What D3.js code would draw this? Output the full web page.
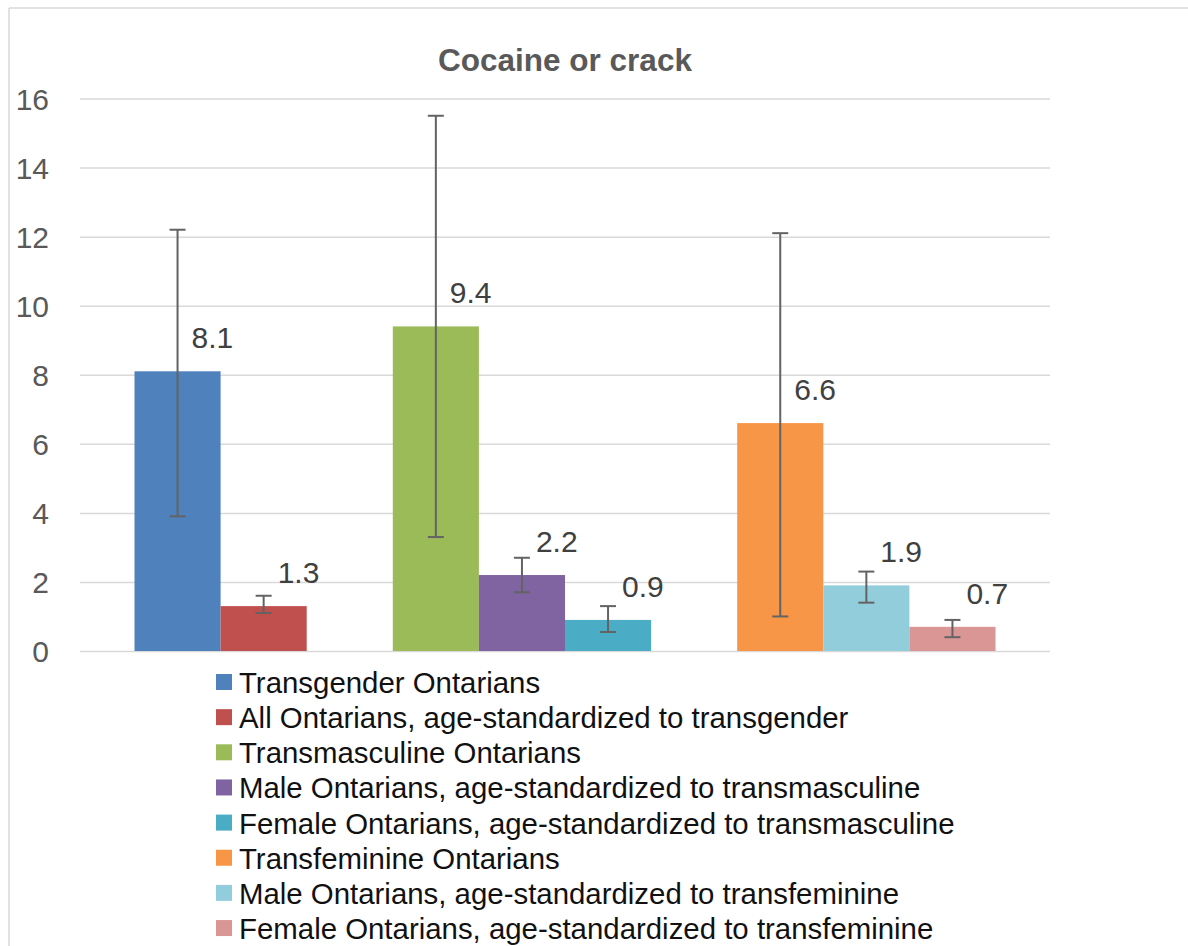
<!DOCTYPE html>
<html>
<head>
<meta charset="utf-8">
<script src="https://cdn.jsdelivr.net/npm/d3@7/dist/d3.min.js"></script>
<style>
  html, body { margin: 0; padding: 0; background: #fff; }
  svg { display: block; font-family: "Liberation Sans", Arial, Helvetica, sans-serif; }
</style>
</head>
<body>
<svg id="chart" width="1188" height="946"></svg>
<script>
// ---- data ----
const title = "Cocaine or crack";
const seriesNames = [
  "Transgender Ontarians",
  "All Ontarians, age-standardized to transgender",
  "Transmasculine Ontarians",
  "Male Ontarians, age-standardized to transmasculine",
  "Female Ontarians, age-standardized to transmasculine",
  "Transfeminine Ontarians",
  "Male Ontarians, age-standardized to transfeminine",
  "Female Ontarians, age-standardized to transfeminine"
];
const groupOf = ["Transgender", "Transgender", "Transmasculine", "Transmasculine", "Transmasculine", "Transfeminine", "Transfeminine", "Transfeminine"];
const values = [8.1, 1.3, 9.4, 2.2, 0.9, 6.6, 1.9, 0.7];
const ciLow  = [3.9, 1.1, 3.3, 1.7, 0.55, 1.0, 1.4, 0.4];
const ciHigh = [12.2, 1.6, 15.5, 2.7, 1.3, 12.1, 2.3, 0.9];
const colors = ["#4F81BD", "#C0504D", "#9BBB59", "#8064A2", "#4BACC6", "#F79646", "#92CDDC", "#D99694"];
const yTicks = [0, 2, 4, 6, 8, 10, 12, 14, 16];

// ---- layout ----
const svg = d3.select("#chart");
const plot = { left: 80, right: 1050, top: 98.5, bottom: 651 };

// slot domain: series in order, with one empty slot between groups
const slots = [];
seriesNames.forEach((s, i) => {
  if (i > 0 && groupOf[i] !== groupOf[i - 1]) slots.push("gap-" + i);
  slots.push(s);
});

const x = d3.scaleBand()
  .domain(slots)
  .range([plot.left, plot.right])
  .paddingInner(0)
  .paddingOuter(0.633);

const y = d3.scaleLinear().domain([0, 16]).range([plot.bottom, plot.top]);

// frame (top and left lines)
svg.append("line").attr("x1", 9).attr("x2", 1188).attr("y1", 8).attr("y2", 8)
  .attr("stroke", "#d9d9d9").attr("stroke-width", 1.5);
svg.append("line").attr("x1", 9).attr("x2", 9).attr("y1", 8).attr("y2", 946)
  .attr("stroke", "#d9d9d9").attr("stroke-width", 1.5);

// title
svg.append("text")
  .attr("x", (plot.left + plot.right) / 2).attr("y", 71)
  .attr("text-anchor", "middle")
  .attr("font-size", 31.5).attr("font-weight", "bold").attr("fill", "#595959")
  .text(title);

// gridlines + y axis labels
const yAxis = d3.axisLeft(y).tickValues(yTicks)
  .tickSize(-(plot.right - plot.left)).tickPadding(31).tickFormat(d3.format("d"));
const gy = svg.append("g").attr("transform", `translate(${plot.left},0)`).call(yAxis);
gy.select(".domain").remove();
gy.selectAll(".tick line").attr("stroke", "#d9d9d9").attr("stroke-width", 1.5);
gy.selectAll(".tick text").attr("font-size", 30).attr("fill", "#595959")
  .attr("font-family", "'Liberation Sans', Arial, Helvetica, sans-serif")
  .attr("dy", "0.36em");

// bars
const data = seriesNames.map((s, i) => ({ s, v: values[i], lo: ciLow[i], hi: ciHigh[i], c: colors[i] }));
svg.append("g").selectAll("rect").data(data).join("rect")
  .attr("x", d => x(d.s))
  .attr("width", x.bandwidth())
  .attr("y", d => y(d.v))
  .attr("height", d => y(0) - y(d.v))
  .attr("fill", d => d.c);

// error bars
const eb = svg.append("g").attr("stroke", "#636363").attr("stroke-width", 2).attr("fill", "none");
const capW = 8;
data.forEach(d => {
  const cx = x(d.s) + x.bandwidth() / 2;
  eb.append("line").attr("x1", cx).attr("x2", cx).attr("y1", y(d.lo)).attr("y2", y(d.hi));
  eb.append("line").attr("x1", cx - capW).attr("x2", cx + capW).attr("y1", y(d.hi)).attr("y2", y(d.hi));
  eb.append("line").attr("x1", cx - capW).attr("x2", cx + capW).attr("y1", y(d.lo)).attr("y2", y(d.lo));
});

// data labels
svg.append("g").selectAll("text").data(data).join("text")
  .attr("x", d => x(d.s) + x.bandwidth() / 2 + 14)
  .attr("y", d => y(d.v) - 23)
  .attr("font-size", 30).attr("fill", "#404040")
  .text(d => d3.format(".1f")(d.v));

// legend
const leg = svg.append("g").attr("transform", "translate(216,674)");
const rowH = 35.15;
seriesNames.forEach((s, i) => {
  const g = leg.append("g").attr("transform", `translate(0,${i * rowH})`);
  g.append("rect").attr("width", 16).attr("height", 16).attr("fill", colors[i]);
  g.append("text").attr("x", 23).attr("y", 19).attr("font-size", 29.4).attr("fill", "#111")
    .text(s);
});
</script>
</body>
</html>
